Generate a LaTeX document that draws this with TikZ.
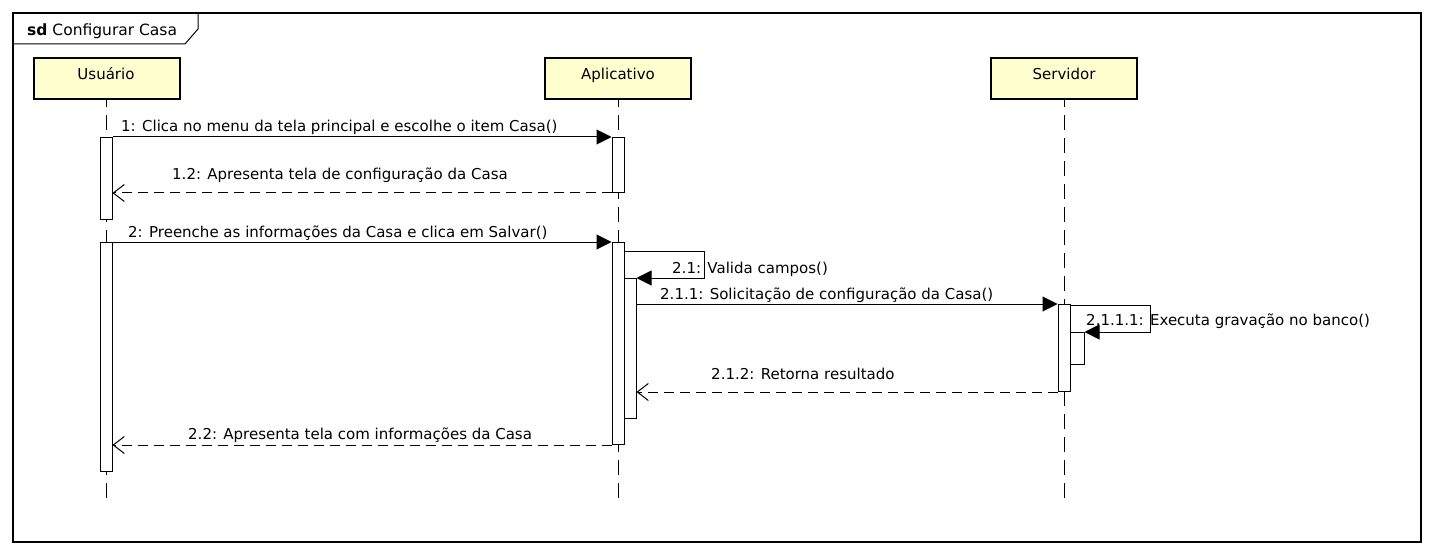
\documentclass[tikz,border=0pt]{standalone}
\usepackage{fontspec}
\setmainfont{DejaVu Sans}
\usetikzlibrary{arrows.meta}
\begin{document}
\begin{tikzpicture}[x=1pt,y=-1pt,
  font=\fontsize{15pt}{17pt}\selectfont,
  head/.style={draw=black, line width=2pt, fill=headfill, minimum width=146pt, minimum height=41pt, inner sep=0pt},
  life/.style={draw=black, line width=1pt, dash pattern=on 15pt off 8pt},
  act/.style={draw=black, line width=1pt, fill=white, minimum width=12pt, inner sep=0pt, anchor=north},
  sync/.style={draw=black, line width=1pt, -{Triangle[length=15pt,width=15pt]}},
  ret/.style={draw=black, line width=1pt, dash pattern=on 10pt off 6pt, -{Straight Barb[length=11pt,width=17pt,line width=1pt]}},
  lbl/.style={anchor=base west, inner sep=0pt}
]
\definecolor{headfill}{RGB}{254,254,206}
\useasboundingbox (0,0) rectangle (1434,556);
% frame
\draw[line width=1.5pt] (13,13) rectangle (1421,542);
\draw[line width=1pt] (13,44) -- (185,44) -- (198,29) -- (198,13);
\node[lbl] (sd) at (27,36) {\fontsize{15.5pt}{17pt}\selectfont\textbf{sd} Configurar Casa};
% participants
\node[head] (U) at (107,79) {};
\node[head] (A) at (618,79) {};
\node[head] (S) at (1064,79) {};
\node[anchor=base, inner sep=0pt] (Ut) at (106,80) {Usuário};
\node[anchor=base, inner sep=0pt] (At) at (618,80) {Aplicativo};
\node[anchor=base, inner sep=0pt] (St) at (1064,80) {Servidor};
% lifelines
\coordinate (Ue) at (106,498);
\coordinate (Ae) at (618,498);
\coordinate (Se) at (1064,498);
\draw[life] (Ue) -- (U.south -| Ue);
\draw[life] (Ae) -- (A.south -| Ae);
\draw[life] (Se) -- (S.south -| Se);
% activations
\node[act, minimum height=82pt] (u1) at (106,137) {};
\node[act, minimum height=229pt] (u2) at (106,242) {};
\node[act, minimum height=55pt] (a1) at (618,137) {};
\node[act, minimum height=202pt] (a2) at (618,242) {};
\node[act, minimum height=140pt] (a3) at (630,278) {};
\node[act, minimum height=87pt] (s1) at (1064,304) {};
\node[act, minimum height=32pt, minimum width=14pt] (s2) at (1077,332) {};
% messages
\draw[sync] (u1.north east) -- (a1.north west);
\node[lbl] (l1) at (121,132) {1: Clica no menu da tela principal e escolhe o item Casa()};
\draw[ret] (a1.south west) -- (u1.east |- a1.south);
\node[lbl] (l12) at (172,179) {1.2: Apresenta tela de configuração da Casa};
\draw[sync] (u2.north east) -- (a2.north west);
\node[lbl] (l2) at (128,237) {2: Preenche as informações da Casa e clica em Salvar()};
\coordinate (v1) at (704,251);
\draw[sync] (a2.east |- v1) -- (v1) -- (v1 |- a3.north) -- (a3.north east);
\node[lbl] (l21) at (672,273) {2.1: Valida campos()};
\draw[sync] (a3.east |- s1.north) -- (s1.north west);
\node[lbl] (l211) at (660,299) {2.1.1: Solicitação de configuração da Casa()};
\coordinate (v2) at (1150,305);
\draw[sync] (s1.east |- v2) -- (v2) -- (v2 |- s2.north) -- (s2.north east);
\node[lbl] (l2111) at (1086,325) {2.1.1.1: Executa gravação no banco()};
\draw[ret] (s1.south west) -- (a3.east |- s1.south);
\node[lbl] (l212) at (711,379) {2.1.2: Retorna resultado};
\draw[ret] (a2.south west) -- (u2.east |- a2.south);
\node[lbl] (l22) at (188,439) {2.2: Apresenta tela com informações da Casa};
\end{tikzpicture}
\end{document}
